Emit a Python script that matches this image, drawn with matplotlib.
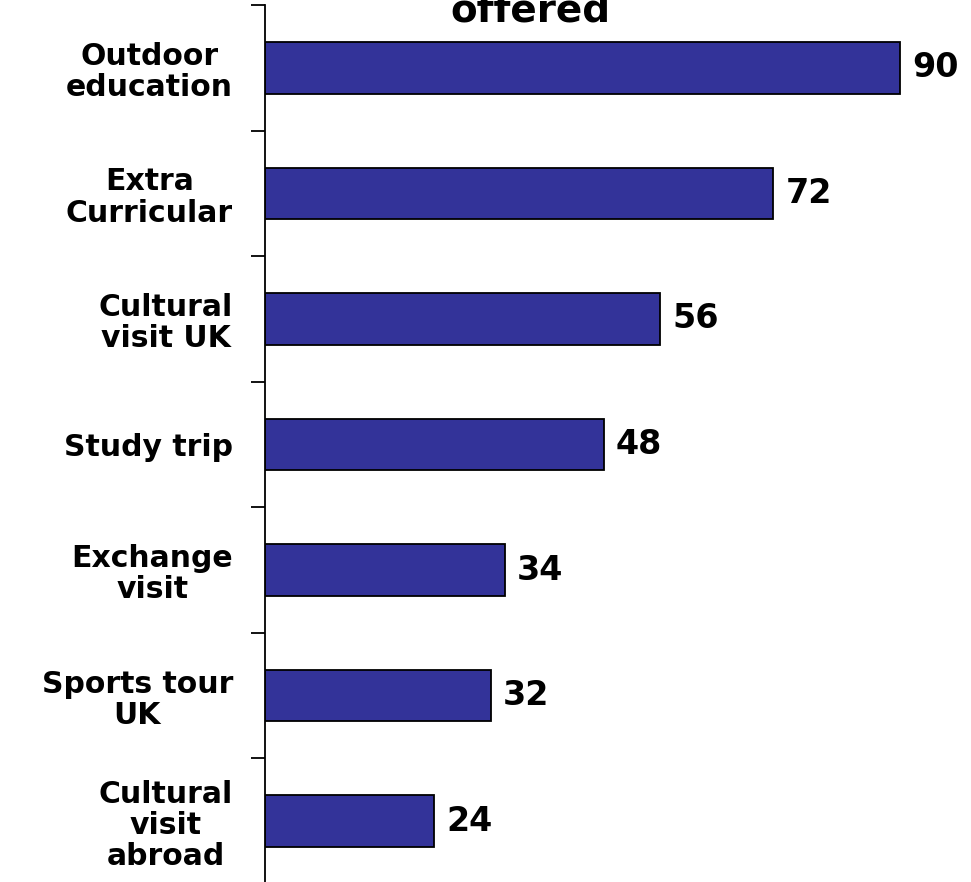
import numpy as np
import matplotlib.pyplot as plt

# activities offered, top to bottom
categories = ["Outdoor\neducation", "Extra\nCurricular", "Cultural\nvisit UK",
              "Study trip", "Exchange\nvisit", "Sports tour\nUK",
              "Cultural\nvisit\nabroad"]
values = [90, 72, 56, 48, 34, 32, 24]

W, H = 971, 882
fig = plt.figure(figsize=(W / 100, H / 100), dpi=100)
ax = fig.add_axes([265 / W, -2 / H, (W - 265) / W, 879 / H])

y = np.arange(len(categories))
ax.barh(y, values, height=0.41, color="#333399", edgecolor="black", linewidth=1.3)

for yi, v in zip(y, values):
    ax.text(v + 1.7, yi, str(v), va="center", ha="left",
            fontsize=24, fontweight="bold")

ax.set_xlim(0, 100)
ax.set_ylim(len(categories) - 0.5, -0.5)

# category names sit between boundary ticks
ax.set_yticks(y)
ax.set_yticklabels(categories, fontsize=21.5, fontweight="bold",
                   multialignment="center", linespacing=1.1)
ax.tick_params(axis="y", which="major", length=0, pad=23)
ax.set_yticks(np.arange(-0.5, len(categories) - 0.5), minor=True)
ax.tick_params(axis="y", which="minor", length=10, width=1.3, direction="out")
ax.set_xticks([])

for s in ["top", "right", "bottom"]:
    ax.spines[s].set_visible(False)
ax.spines["left"].set_linewidth(1.3)

fig.text(530 / W, 1 - 22 / H, "offered", ha="center", va="baseline",
         fontsize=28, fontweight="bold")

fig.savefig("out.png", dpi=100)
